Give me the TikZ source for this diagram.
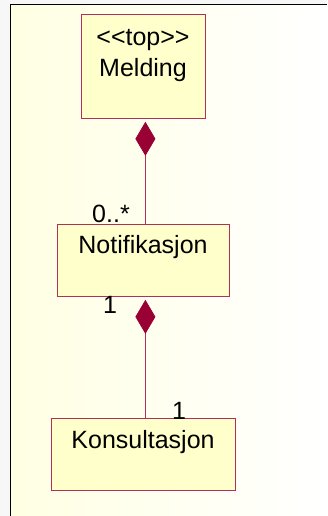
\documentclass[tikz,border=0pt]{standalone}
\usepackage{fontspec}
\setmainfont{Liberation Sans}
\usetikzlibrary{arrows.meta}
\definecolor{umlfill}{HTML}{FFFFCC}
\definecolor{umlline}{HTML}{B0305A}
\definecolor{umldiam}{HTML}{990033}
\tikzset{
  classbox/.style={draw=umlline, fill=umlfill, line width=0.8pt, anchor=north west, inner sep=0pt},
  comp/.style={draw=umlline, line width=0.8pt, shorten <=3pt,
    {Diamond[length=34pt,width=20pt,fill=umldiam,color=umldiam]}-},
  mult/.style={font=\fontsize{25}{28}\selectfont, inner sep=0pt}
}
\begin{document}
\begin{tikzpicture}[x=1pt,y=-1pt,font=\fontsize{25}{30}\selectfont]
\useasboundingbox (0,0) rectangle (327,516);
\fill[white!97!black] (0,0) rectangle (327,516);
\shade[left color=umlfill!55!white, right color=white] (10,5) rectangle (327,516);
\draw[line width=1pt] (327,5)--(10,5)--(10,516);
% classes
\node[classbox, minimum width=124pt, minimum height=104pt] (melding) at (81,14) {};
\node at (143,40) {<{}<top>{}>};
\node at (143,70) {Melding};
\node[classbox, minimum width=172pt, minimum height=72pt] (notif) at (57,224) {};
\node at (143,247) {Notifikasjon};
\node[classbox, minimum width=184pt, minimum height=72pt] (konsult) at (51,418) {};
\node at (143,442) {Konsultasjon};
% composition
\draw[comp] ([xshift=2pt]melding.south) -- ([xshift=2pt]notif.north);
\draw[comp] ([xshift=2pt]notif.south) -- ([xshift=2pt]konsult.north);
\node[mult] (m1) at (111,214) {0..*};
\node[mult] (m2) at (110,305) {1};
\node[mult] (m3) at (179,411) {1};
\end{tikzpicture}
\end{document}
